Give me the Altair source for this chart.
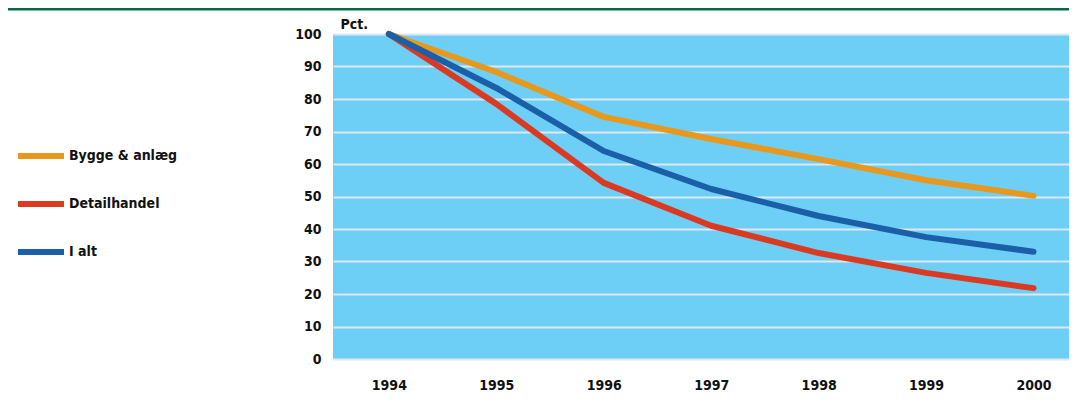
import altair as alt
import pandas as pd

years = [1994, 1995, 1996, 1997, 1998, 1999, 2000]
bygge = [100, 88.3, 74.5, 67.7, 61.5, 55.0, 50.2]
detail = [100, 78.5, 54.2, 41.0, 32.6, 26.5, 21.8]
ialt = [100, 83.4, 64.0, 52.3, 44.0, 37.5, 33.0]
series_names = ["Bygge & anlæg", "Detailhandel", "I alt"]
series_colors = ["#e8981c", "#db3a22", "#1a5fa8"]
y_ticks = [0, 10, 20, 30, 40, 50, 60, 70, 80, 90, 100]

rows = []
for name, vals in zip(series_names, [bygge, detail, ialt]):
    for yr, v in zip(years, vals):
        rows.append({"year": yr, "value": v, "series": name})
df = pd.DataFrame(rows)

FONT = "DejaVu Sans Condensed"

lines = alt.Chart(df).mark_line(strokeWidth=6, strokeCap="round", strokeJoin="round").encode(
    x=alt.X("year:Q", scale=alt.Scale(domain=[1993.48, 2000.33], nice=False, zero=False),
            axis=alt.Axis(values=years, format="d", labelFont=FONT, labelFontWeight="bold",
                          labelFontSize=14, labelColor="#111", labelPadding=19, ticks=False,
                          domain=False, grid=False, title=None)),
    y=alt.Y("value:Q", scale=alt.Scale(domain=[0, 100], nice=False),
            axis=alt.Axis(values=y_ticks, labelFont=FONT, labelFontWeight="bold",
                          labelFontSize=14, labelColor="#111", labelPadding=12, ticks=False,
                          domain=False, grid=True, gridColor="#dfe8ef", gridWidth=2,
                          title="Pct.", titleAngle=0, titleX=7, titleY=-6, titleAlign="left",
                          titleBaseline="alphabetic", titleFont=FONT, titleFontSize=14,
                          titleFontWeight="bold", titleColor="#111")),
    color=alt.Color("series:N", scale=alt.Scale(domain=series_names, range=series_colors),
                    legend=alt.Legend(orient="none", legendX=-318, legendY=96, title=None,
                                      symbolType="stroke", symbolSize=2116, symbolStrokeWidth=6,
                                      labelFont=FONT, labelFontWeight="bold", labelFontSize=14,
                                      labelColor="#111", labelOffset=2, rowPadding=10)),
)

topline = alt.Chart(pd.DataFrame({"a": [0]})).mark_rule(color="#006a4e", strokeWidth=3).encode(
    x=alt.value(-325), x2=alt.value(736), y=alt.value(-25)
)

chart = alt.layer(topline, lines).properties(
    width=736, height=325,
    padding={"left": 325, "top": 26, "right": 0, "bottom": 42},
    autosize=alt.AutoSizeParams(type="none"),
    background="white",
).configure_view(fill="#6dcff6", stroke=None)

chart.save("out.html", embed_options={"renderer": "svg", "actions": False})
